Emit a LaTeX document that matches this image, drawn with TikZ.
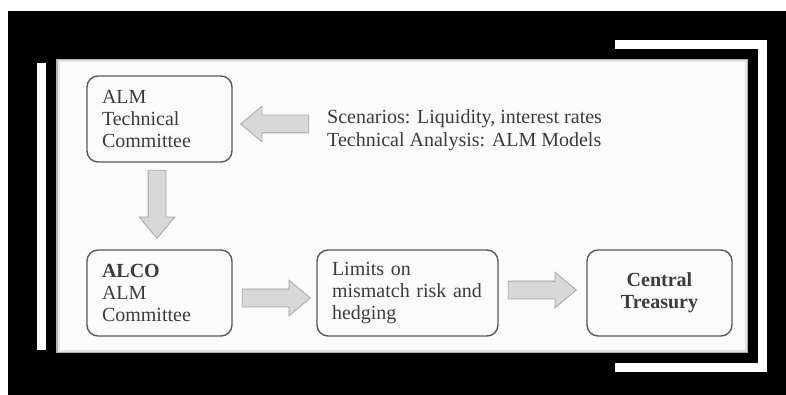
\documentclass[tikz,border=0pt]{standalone}
\usepackage{fontspec}
\setmainfont{Liberation Serif}
\usetikzlibrary{shapes.arrows,positioning}
\definecolor{inkgray}{HTML}{3C3C3C}
\definecolor{arrowfill}{HTML}{D8D8D8}
\definecolor{arrowline}{HTML}{A6A6A6}
\tikzset{
  stagebox/.style={draw=inkgray!85, line width=1.4pt, rounded corners=11pt,
    minimum width=145pt, minimum height=86pt, text width=115pt, align=left,
    inner xsep=15pt, text=inkgray, font=\fontsize{20}{22}\selectfont},
  blockarrow/.style={single arrow, draw=arrowline, fill=arrowfill, line width=0.8pt,
    minimum width=35pt, single arrow head extend=9pt, single arrow tip angle=80,
    inner sep=8.5pt, minimum height=68pt},
  framebar/.style={draw=white, line width=9pt, line join=miter}
}
\begin{document}
\begin{tikzpicture}[x=1pt,y=-1pt]
  \useasboundingbox (0,0) rectangle (786,395);
  % frame
  \fill[white] (0,0) rectangle (786,395);
  \fill[black] (8,11) rectangle (786,395);
  \fill[white] (37,63) rectangle (46,350);
  \draw[framebar] (615,44.5) -- (762.5,44.5) -- (762.5,367.5) -- (615,367.5);
  % panel with soft edge
  \fill[gray!60] (56,59) rectangle (748,353);
  \fill[gray!22] (57.5,60.5) rectangle (746.5,351.5);
  \fill[white!97!gray] (59.5,62.5) rectangle (744.5,349.5);
  % stages
  \node[stagebox] (tech) at (159.5,119) {ALM\\Technical\\Committee};
  \node[stagebox] (alco) at (159.5,293) {\textbf{ALCO}\\ALM\\Committee};
  \node[stagebox, minimum width=181pt, text width=151pt] (limits) at (407.5,293)
    {Limits on\\mismatch risk and\\hedging};
  \node[stagebox, align=center] (treasury) at (659.5,293)
    {\textbf{Central}\\\textbf{Treasury}};
  \node[anchor=west, align=left, text=inkgray, inner sep=0pt,
    font=\fontsize{20}{23}\selectfont] (scen) at (327,130)
    {Scenarios: Liquidity, interest rates\\Technical Analysis: ALM Models};
  % block arrows
  \node[blockarrow, shape border rotate=180] (inarrow) at (280,124) {};
  \node[blockarrow, shape border rotate=270] (downarrow) at (157,199) {};
  \node[blockarrow] (limarrow) at (271,298) {};
  \node[blockarrow] (treasarrow) at (537,290) {};
\end{tikzpicture}
\end{document}
